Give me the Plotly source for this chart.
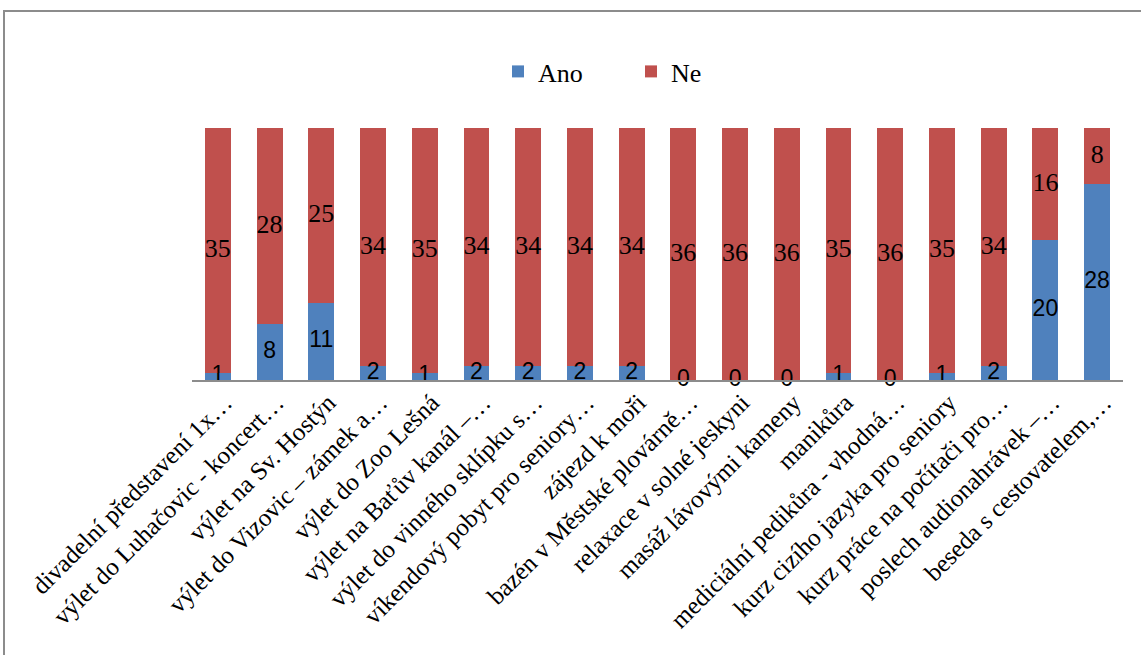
import plotly.graph_objects as go

categories = [
    "divadelní představení 1x…",
    "výlet do Luhačovic - koncert…",
    "výlet na Sv. Hostýn",
    "výlet do Vizovic – zámek a…",
    "výlet do Zoo Lešná",
    "výlet na Baťův kanál –…",
    "výlet do vinného sklípku s…",
    "víkendový pobyt pro seniory…",
    "zájezd k moři",
    "bazén v Městské plovárně…",
    "relaxace v solné jeskyni",
    "masáž lávovými kameny",
    "manikůra",
    "mediciální pedikůra - vhodná…",
    "kurz cizího jazyka pro seniory",
    "kurz práce na počítači pro…",
    "poslech audionahrávek –…",
    "beseda s cestovatelem,…",
]
ano = [1, 8, 11, 2, 1, 2, 2, 2, 2, 0, 0, 0, 1, 0, 1, 2, 20, 28]
ne = [35, 28, 25, 34, 35, 34, 34, 34, 34, 36, 36, 36, 35, 36, 35, 34, 16, 8]

BLUE = "#4F81BD"
RED = "#C0504D"
SERIF = "Liberation Serif"
SANS = "Liberation Sans"

fig = go.Figure()
fig.add_trace(go.Bar(x=categories, y=ano, name="Ano", marker=dict(color=BLUE, line=dict(width=0))))
fig.add_trace(go.Bar(x=categories, y=ne, name="Ne", marker=dict(color=RED, line=dict(width=0))))

# data labels centred in each segment
fig.add_trace(go.Scatter(
    x=categories, y=[a / 2 for a in ano], mode="text",
    text=[str(a) for a in ano], textposition="middle center",
    textfont=dict(family=SANS, size=23, color="black"),
    showlegend=False, hoverinfo="skip", cliponaxis=False))
fig.add_trace(go.Scatter(
    x=categories, y=[a + n / 2 for a, n in zip(ano, ne)], mode="text",
    text=[str(n) for n in ne], textposition="middle center",
    textfont=dict(family=SERIF, size=26, color="black"),
    showlegend=False, hoverinfo="skip", cliponaxis=False))

L, R, T, B = 192, 1141 - 1123, 128, 655 - 380
W, H = 1123 - 192, 380 - 128

fig.update_layout(
    width=1141, height=655,
    margin=dict(l=L, r=R, t=T, b=B, autoexpand=False),
    barmode="stack", bargap=0.5,
    paper_bgcolor="white", plot_bgcolor="white",
    font=dict(family=SERIF, size=25, color="black"),
    legend=dict(orientation="h", x=(498 - L) / W, y=(380 - 48) / H,
                xanchor="left", yanchor="top", traceorder="normal",
                font=dict(family=SERIF, size=26, color="black"),
                entrywidth=88, entrywidthmode="pixels",
                bgcolor="rgba(0,0,0,0)"),
    xaxis=dict(showline=True, linecolor="#8c8c8c", linewidth=2,
               range=[-0.5, len(categories) - 0.5],
               tickangle=-45, ticks="", showgrid=False, automargin=False,
               ticklabelshift=7, ticklabelstandoff=-4,
               tickfont=dict(family=SERIF, size=25, color="black")),
    yaxis=dict(range=[0, 36], visible=False, showgrid=False, fixedrange=True),
    shapes=[dict(type="rect", xref="paper", yref="paper",
                 x0=(4 - L) / W, x1=(1160 - L) / W,
                 y0=(380 - 680) / H, y1=(380 - 11) / H,
                 line=dict(color="#8c8c8c", width=2), fillcolor="rgba(0,0,0,0)",
                 layer="below")],
    showlegend=True,
)

fig.write_html("out.html")
